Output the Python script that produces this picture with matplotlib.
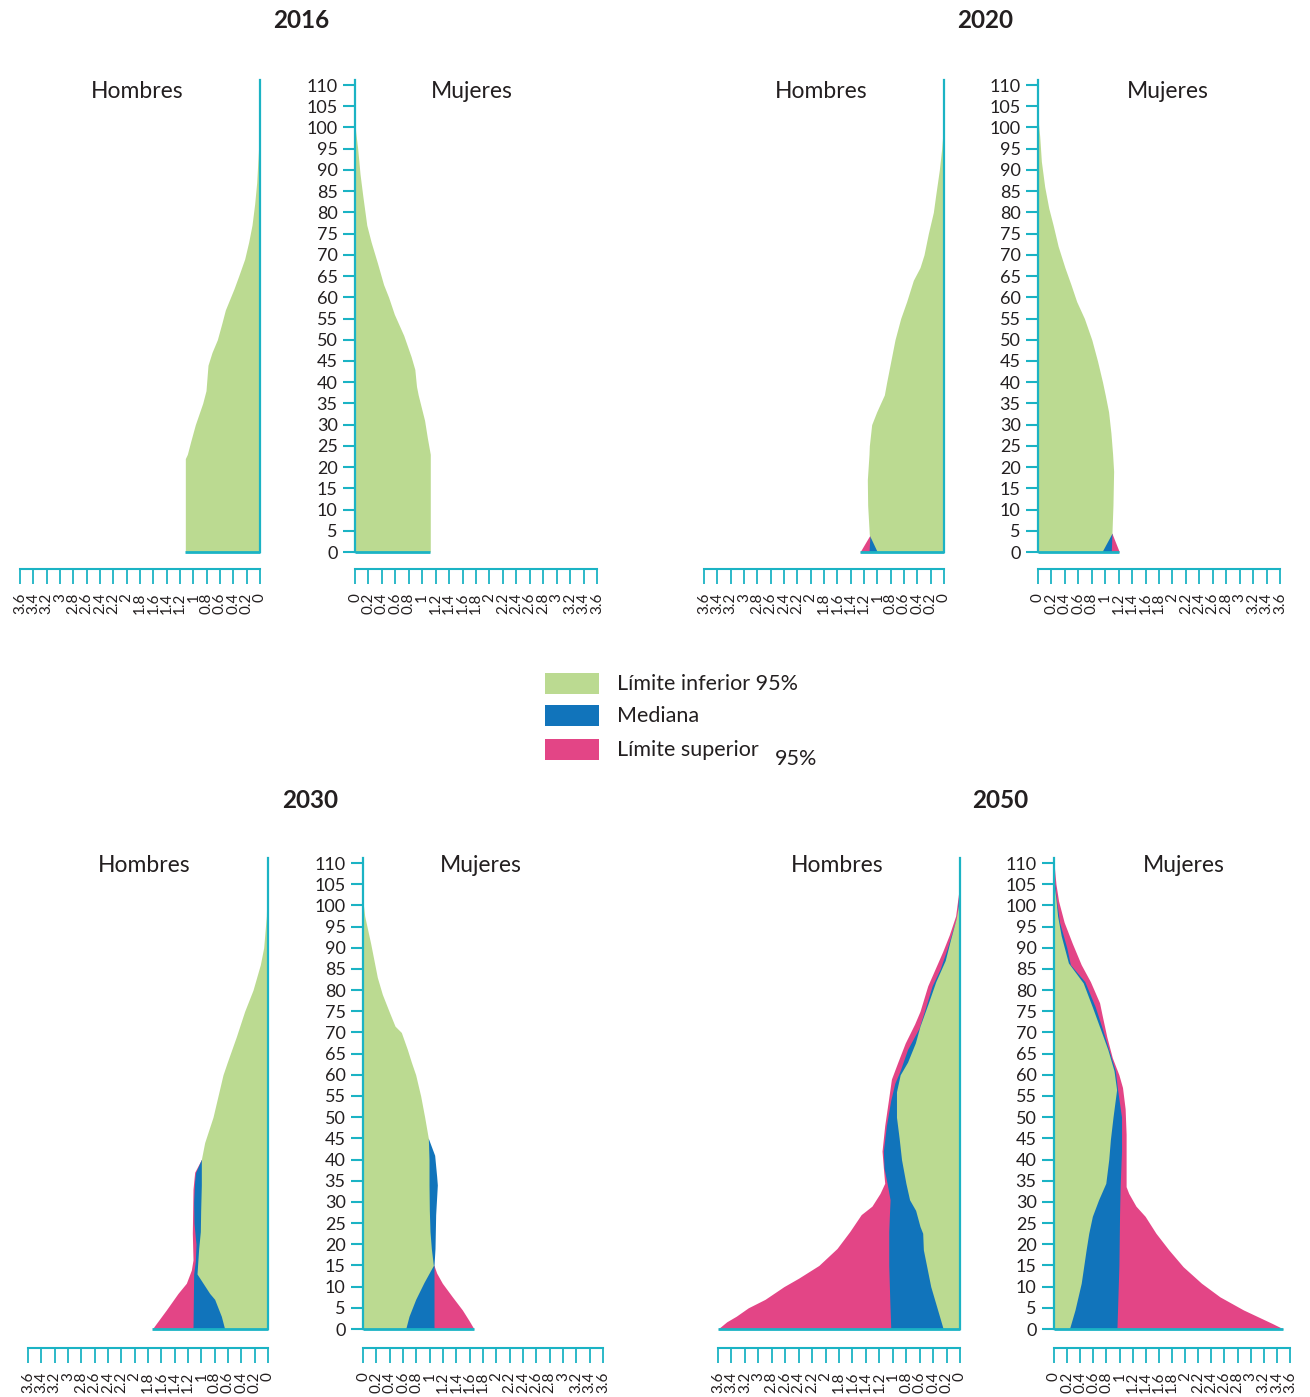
"""Pirámides de población por sexo (2016, 2020, 2030, 2050) con bandas
límite inferior 95% / mediana / límite superior 95%.
Valores en % de la población por edad simple.
"""
import matplotlib
matplotlib.use("Agg")
import matplotlib.pyplot as plt
from matplotlib.patches import Rectangle

W, H = 1310, 1397
GREEN = "#BBDA91"
BLUE = "#1174BB"
PINK = "#E34586"
CYAN = "#1BB3C4"
INK = "#231F20"

plt.rcParams["font.family"] = ["Lato", "DejaVu Sans"]

YEARS = ["2016", "2020", "2030", "2050"]
XTICKS = [0, 0.2, 0.4, 0.6, 0.8, 1, 1.2, 1.4, 1.6, 1.8, 2, 2.2, 2.4, 2.6, 2.8, 3, 3.2, 3.4, 3.6]
XLABELS = ["0", "0.2", "0.4", "0.6", "0.8", "1", "1.2", "1.4", "1.6", "1.8",
           "2", "2.2", "2.4", "2.6", "2.8", "3", "3.2", "3.4", "3.6"]
YTICKS = list(range(0, 111, 5))
LEGEND = ["Límite inferior 95%", "Mediana", "Límite superior"]

# ---- 2016 ----
H2016_LOW_AGE = [0, 22, 23, 26, 30, 35, 38, 42, 44, 47, 50, 54, 57, 62, 65, 69, 73, 77, 82, 87, 94, 99, 101]
H2016_LOW = [1.12, 1.12, 1.09, 1.04, 0.97, 0.86, 0.81, 0.79, 0.78, 0.72, 0.64, 0.57, 0.52, 0.39,
             0.32, 0.23, 0.17, 0.12, 0.08, 0.05, 0.025, 0.01, 0]
M2016_LOW_AGE = [0, 23, 27, 31, 37, 39, 43, 46, 51, 56, 60, 63, 68, 73, 77, 84, 89, 95, 99, 101]
M2016_LOW = [1.12, 1.12, 1.075, 1.035, 0.94, 0.915, 0.89, 0.835, 0.725, 0.585, 0.5, 0.425,
             0.335, 0.24, 0.175, 0.115, 0.075, 0.04, 0.01, 0]

# ---- 2020 ----
H2020_LOW_AGE = [0, 4, 11, 17, 23, 25, 30, 33, 37, 40, 42, 46, 50, 55, 59, 64, 67, 70, 75, 80, 84, 90, 95, 102]
H2020_LOW = [1.0, 1.12, 1.145, 1.15, 1.125, 1.12, 1.085, 1.01, 0.895, 0.86, 0.835, 0.785, 0.735,
             0.65, 0.56, 0.46, 0.36, 0.3, 0.235, 0.16, 0.125, 0.07, 0.035, 0]
H2020_MED_AGE = [0, 4]
H2020_MED = [1.125, 1.11]
H2020_UP_AGE = [0, 4]
H2020_UP = [1.26, 1.11]
M2020_LOW_AGE = [0, 4.4, 11, 19, 23, 28, 33, 37, 40, 45, 50, 55, 59, 63, 67, 72, 77, 81, 86, 92, 98, 102]
M2020_LOW = [0.95, 1.10, 1.115, 1.125, 1.11, 1.085, 1.05, 1.0, 0.96, 0.885, 0.8, 0.69, 0.575,
             0.49, 0.4, 0.3, 0.225, 0.16, 0.1, 0.05, 0.025, 0]
M2020_MED_AGE = [0, 4.4]
M2020_MED = [1.09, 1.10]
M2020_UP_AGE = [0, 4.4]
M2020_UP = [1.21, 1.10]

# ---- 2030 ----
H2030_LOW_AGE = [0, 3, 7, 8.4, 13, 19, 23, 28, 34, 40, 44, 50, 55, 60, 63, 69, 75, 80, 86, 90, 97.5, 105, 111]
H2030_LOW = [0.65, 0.70, 0.80, 0.875, 1.065, 1.04, 1.015, 1.01, 1.0, 1.0, 0.95, 0.825, 0.75,
             0.675, 0.61, 0.475, 0.35, 0.225, 0.115, 0.065, 0.025, 0.01, 0]
H2030_MED_AGE = [0, 13, 16, 20, 25, 30, 35, 37, 40]
H2030_MED = [1.125, 1.115, 1.09, 1.08, 1.11, 1.115, 1.1, 1.085, 1.0]
H2030_UP_AGE = [0, 1.3, 4.5, 8.4, 10.8, 13.9, 16.3, 22.6, 28, 33, 37, 40]
H2030_UP = [1.735, 1.675, 1.525, 1.35, 1.225, 1.15, 1.125, 1.135, 1.13, 1.125, 1.1, 1.0]
M2030_LOW_AGE = [0, 3, 7, 11, 15, 19, 23, 28, 34, 40, 45, 50, 55, 60, 63, 66, 70, 71.5, 75,
                 79, 83, 87, 91, 97.5, 101]
M2030_LOW = [0.64, 0.69, 0.79, 0.915, 1.055, 1.025, 1.005, 0.995, 0.99, 0.99, 0.98, 0.925,
             0.865, 0.79, 0.725, 0.665, 0.575, 0.48, 0.39, 0.29, 0.215, 0.165, 0.115, 0.025, 0]
M2030_MED_AGE = [0, 15, 19, 27, 34, 36, 41, 45]
M2030_MED = [1.065, 1.065, 1.08, 1.09, 1.115, 1.105, 1.075, 0.98]
M2030_UP_AGE = [0, 2, 4.5, 7.6, 10.8, 13.2, 15]
M2030_UP = [1.665, 1.59, 1.49, 1.34, 1.19, 1.105, 1.065]

# ---- 2050 ----
H2050_LOW_AGE = [0, 3, 10, 18.7, 22.6, 24.2, 28, 30.5, 34.4, 40, 45, 50, 56, 60, 63, 67.5,
                 71.5, 77, 82, 87, 92, 97, 100.6, 105]
H2050_LOW = [0.25, 0.305, 0.435, 0.545, 0.555, 0.595, 0.66, 0.75, 0.805, 0.87, 0.905, 0.945,
             0.945, 0.89, 0.78, 0.665, 0.595, 0.47, 0.36, 0.22, 0.14, 0.055, 0.015, 0]
H2050_MED_AGE = [0, 7, 15, 23, 27, 30.5, 34.4, 38, 42, 48, 54, 58, 61, 66, 71, 75, 81, 85,
                 89.6, 94, 97.5, 105, 111]
H2050_MED = [1.03, 1.045, 1.06, 1.06, 1.05, 1.04, 1.085, 1.13, 1.14, 1.095, 1.03, 0.97, 0.89,
             0.78, 0.61, 0.53, 0.415, 0.295, 0.195, 0.11, 0.04, 0.01, 0]
H2050_UP_AGE = [0, 1.7, 3, 5, 7, 10, 12, 15, 19, 23, 27, 29, 32, 34.4, 38, 42, 48, 54, 59, 63,
                67.5, 72, 75, 81, 85, 89, 93, 97.5, 103, 109]
H2050_UP = [3.6, 3.47, 3.33, 3.15, 2.9, 2.62, 2.4, 2.1, 1.83, 1.64, 1.47, 1.31, 1.19, 1.12, 1.14,
            1.16, 1.12, 1.065, 1.02, 0.925, 0.815, 0.675, 0.595, 0.48, 0.37, 0.26, 0.16, 0.065,
            0.02, 0]
M2050_LOW_AGE = [0, 4.5, 10.8, 18.7, 22.6, 26.6, 30.5, 34.4, 40, 44.7, 50, 56.5, 61, 66, 70.7,
                 76, 81.7, 86.4, 92.8, 97.5, 101.4, 105]
M2050_LOW = [0.235, 0.32, 0.415, 0.49, 0.53, 0.585, 0.68, 0.79, 0.835, 0.86, 0.9, 0.955, 0.915,
             0.82, 0.71, 0.585, 0.445, 0.22, 0.11, 0.055, 0.03, 0]
M2050_MED_AGE = [0, 15, 27, 34, 42, 50, 56.5, 61, 66, 71, 76, 82, 86, 90, 96, 101, 105]
M2050_MED = [0.96, 0.99, 1.0, 1.01, 1.03, 1.03, 0.97, 0.935, 0.835, 0.735, 0.63, 0.47, 0.25,
             0.195, 0.085, 0.04, 0.01]
M2050_UP_AGE = [0, 1.3, 4.5, 7.6, 10.8, 14.7, 18.7, 22.6, 26.6, 29, 32, 33.6, 38, 46, 52, 57,
                60, 64, 69, 74, 77, 82, 86, 91, 96, 101, 105, 110]
M2050_UP = [3.5, 3.33, 2.89, 2.53, 2.25, 1.97, 1.75, 1.555, 1.39, 1.25, 1.14, 1.1, 1.1, 1.1,
            1.085, 1.045, 0.99, 0.89, 0.805, 0.735, 0.695, 0.555, 0.415, 0.28, 0.155, 0.07,
            0.03, 0]

YMAX = 111.2


def fx(x):
    return x / W


def fy(y):
    return 1 - y / H


def panel(fig, x0, x36, y0, ppy, women, layers, offset):
    """x0/x36: pixel column of 0 % and 3.6 %; y0: pixel row of age 0."""
    top = y0 - YMAX * ppy
    left = min(x0, x36)
    ax = fig.add_axes([fx(left), fy(y0), abs(x36 - x0) / W, (y0 - top) / H])
    ax.set_facecolor("none")
    for ages, vals, color in layers:
        ax.fill_betweenx(ages, 0, vals, color=color, lw=0)
    ext = max(v[0] for _, v, _ in layers)
    ax.plot([0, ext], [0, 0], color=CYAN, lw=2, clip_on=False, solid_capstyle="butt", zorder=5)

    ax.set_ylim(0, YMAX)
    if women:
        ax.set_xlim(0, 3.6)
        side = "left"
    else:
        ax.set_xlim(3.6, 0)
        side = "right"
    for s in ["left", "right", "top"]:
        ax.spines[s].set_visible(s == side)
    ax.spines[side].set_color(CYAN)
    ax.spines[side].set_linewidth(1.6)

    if women:
        ax.set_yticks(YTICKS)
        ax.set_yticklabels([str(t) for t in YTICKS])
        ax.tick_params(axis="y", left=True, right=False, length=8.5, width=1.5, color=CYAN,
                       labelsize=13, labelcolor=INK, pad=4)
    else:
        ax.set_yticks([])

    # x scale drawn as a ruler below the panel
    ax.spines["bottom"].set_position(("outward", offset))
    ax.spines["bottom"].set_color(CYAN)
    ax.spines["bottom"].set_linewidth(1.5)
    ax.set_xticks(XTICKS)
    ax.set_xticklabels(XLABELS, rotation=90)
    ax.tick_params(axis="x", direction="out", length=11, width=1.3, color=CYAN,
                   labelsize=11, labelcolor=INK, pad=6)
    return ax


def layers(low, med=None, up=None):
    out = []
    if up:
        out.append((up[0], up[1], PINK))
    if med:
        out.append((med[0], med[1], BLUE))
    out.append((low[0], low[1], GREEN))
    return out


fig = plt.figure(figsize=(W / 100, H / 100), dpi=100)

PPY_TOP = (552 - 85) / 110
PPY_BOT = (1329 - 863) / 110

panels = [
    # x0, x36, y0, ppy, women, layers, ruler offset
    (260, 20, 552, PPY_TOP, False, layers((H2016_LOW_AGE, H2016_LOW)), 12.5),
    (355, 597, 552, PPY_TOP, True, layers((M2016_LOW_AGE, M2016_LOW)), 12.5),
    (944, 704, 552, PPY_TOP, False,
     layers((H2020_LOW_AGE, H2020_LOW), (H2020_MED_AGE, H2020_MED), (H2020_UP_AGE, H2020_UP)), 12.5),
    (1038, 1280, 552, PPY_TOP, True,
     layers((M2020_LOW_AGE, M2020_LOW), (M2020_MED_AGE, M2020_MED), (M2020_UP_AGE, M2020_UP)), 12.5),
    (268, 28, 1329, PPY_BOT, False,
     layers((H2030_LOW_AGE, H2030_LOW), (H2030_MED_AGE, H2030_MED), (H2030_UP_AGE, H2030_UP)), 14),
    (363, 603, 1329, PPY_BOT, True,
     layers((M2030_LOW_AGE, M2030_LOW), (M2030_MED_AGE, M2030_MED), (M2030_UP_AGE, M2030_UP)), 14),
    (960, 718, 1329, PPY_BOT, False,
     layers((H2050_LOW_AGE, H2050_LOW), (H2050_MED_AGE, H2050_MED), (H2050_UP_AGE, H2050_UP)), 14),
    (1054, 1290, 1329, PPY_BOT, True,
     layers((M2050_LOW_AGE, M2050_LOW), (M2050_MED_AGE, M2050_MED), (M2050_UP_AGE, M2050_UP)), 14),
]
for p in panels:
    panel(fig, *p)

# titles
year_pos = [(301, 21), (985, 21), (310, 801), (1000, 801)]
for yr, (x, y) in zip(YEARS, year_pos):
    fig.text(fx(x), fy(y), yr, ha="center", va="center", fontsize=17.5, fontweight="bold", color=INK)

sex_pos = [(137, 91, "Hombres"), (472, 91, "Mujeres"), (821, 91, "Hombres"), (1168, 91, "Mujeres"),
           (144, 866, "Hombres"), (481, 866, "Mujeres"), (837, 866, "Hombres"), (1184, 866, "Mujeres")]
for x, y, s in sex_pos:
    fig.text(fx(x), fy(y), s, ha="center", va="center", fontsize=16.5, color=INK)

# legend
for (y, color, label) in zip([673, 705, 739], [GREEN, BLUE, PINK], LEGEND):
    fig.add_artist(Rectangle((fx(545), fy(y + 21)), 54 / W, 21 / H, transform=fig.transFigure,
                             facecolor=color, edgecolor="none"))
    fig.text(fx(617), fy(y + 11), label, ha="left", va="center", fontsize=15.5, color=INK)
fig.text(fx(775), fy(759), "95%", ha="left", va="center", fontsize=15.5, color=INK)

fig.savefig("out.png", dpi=100)
